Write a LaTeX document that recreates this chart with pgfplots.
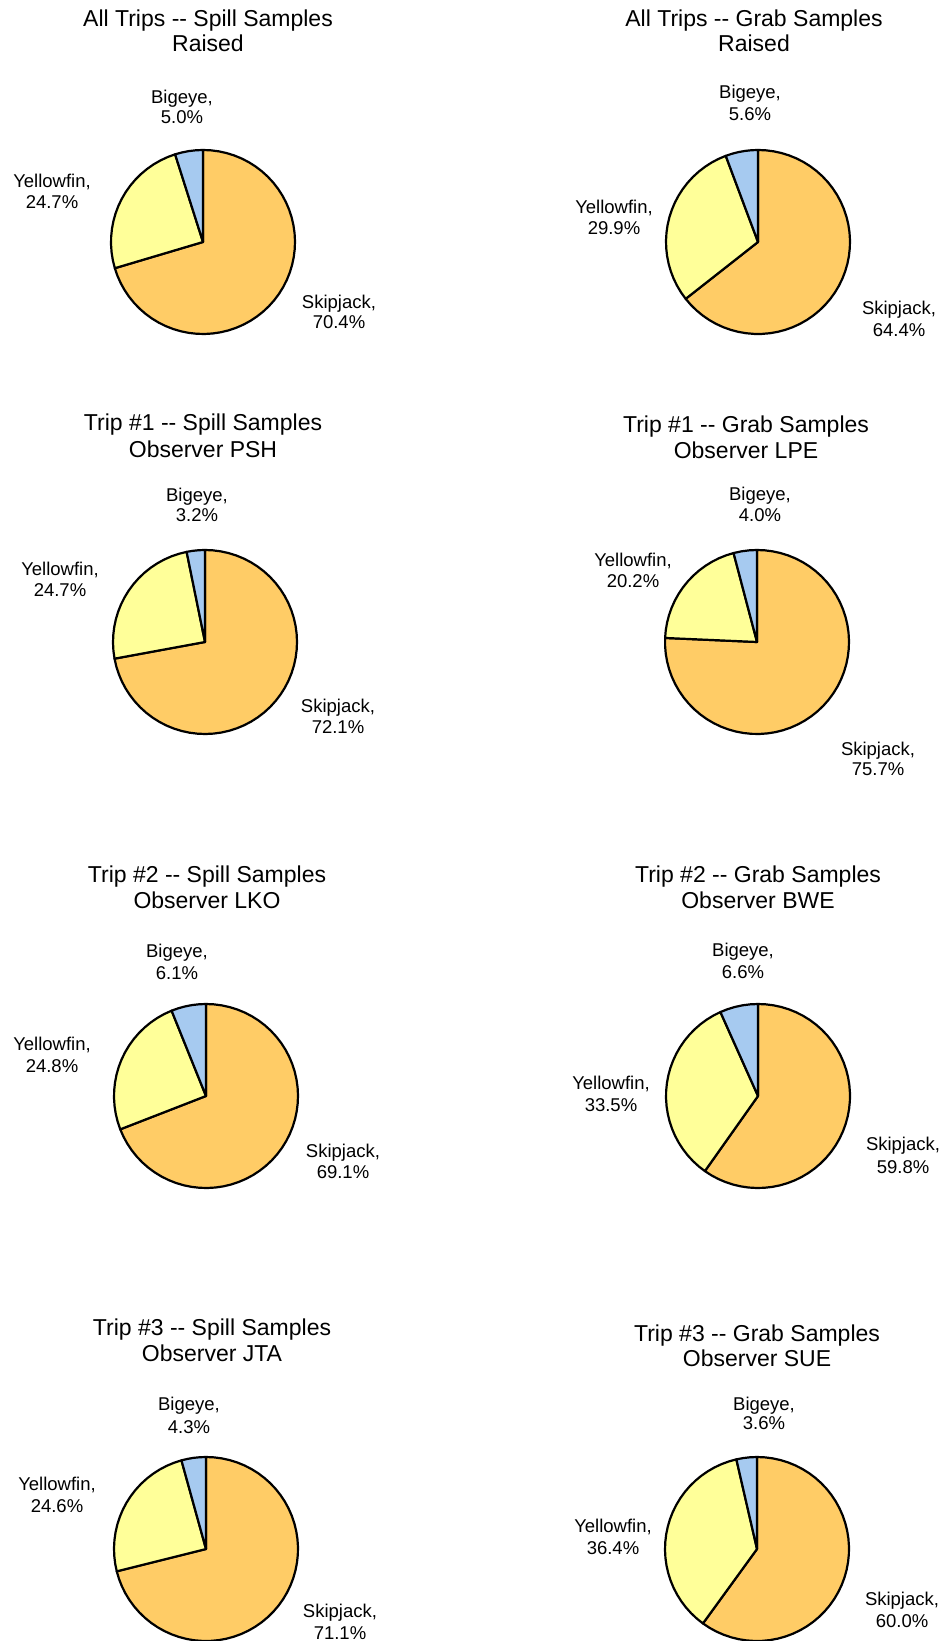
\documentclass[border=0pt]{standalone}
\usepackage{pgfplots}
\pgfplotsset{compat=1.18}
\usepackage{fontspec}
\setmainfont{Liberation Sans}
\definecolor{skc}{HTML}{FFCC66}
\definecolor{yfc}{HTML}{FFFF99}
\definecolor{bec}{HTML}{A6CAF0}
\def\R{92}
\newcommand\dd{-\kern0pt-}
\newcommand\lf{\fontsize{9.25}{11}\selectfont}
\newcommand\tf{\fontsize{11.5}{13}\selectfont}
% one wedge: centre x, centre y, start angle, end angle (clockwise from top), colour
\newcommand{\wedgeplot}[5]{%
  \pgfmathtruncatemacro\nint{max(2,ceil((#4-#3)/5))}%
  \pgfmathsetmacro\dlt{(#4-#3)/\nint}%
  \pgfmathsetmacro\dend{#4+\dlt}%
  \pgfmathsetmacro\thr{#4+0.5*\dlt}%
  \pgfmathtruncatemacro\nsamp{\nint+2}%
  \edef\temp{\noexpand\addplot[draw=black, line width=1.1pt, line join=round, fill=#5, domain=#3:\dend, samples=\nsamp, variable=\noexpand\t] ({#1+(\noexpand\t<\thr)*\R*sin(\noexpand\t)}, {#2-(\noexpand\t<\thr)*\R*cos(\noexpand\t)}) -- cycle;}%
  \temp
}
% pie: centre x, centre y, Skipjack %, Yellowfin %, Bigeye %
\newcommand{\pie}[5]{%
  \pgfmathsetmacro\aA{3.6*#3}%
  \pgfmathsetmacro\aB{3.6*(#3+#4)}%
  \wedgeplot{#1}{#2}{0}{\aA}{skc}%
  \wedgeplot{#1}{#2}{\aA}{\aB}{yfc}%
  \wedgeplot{#1}{#2}{\aB}{360}{bec}%
}
\newcommand{\lab}[5]{%
  \node[font=\lf, anchor=base] at (axis cs:#1,#2) {#4};
  \node[font=\lf, anchor=base] at (axis cs:#1,#3) {#5};
}
\newcommand{\ttl}[5]{%
  \node[font=\tf, anchor=base] at (axis cs:#1,#2) {#4};
  \node[font=\tf, anchor=base] at (axis cs:#1,#3) {#5};
}
\begin{document}
\begin{tikzpicture}
\begin{axis}[at={(0,0)}, anchor=south west, width=471.5pt, height=820.5pt,
  scale only axis, xmin=0, xmax=943, ymin=0, ymax=1641, y dir=reverse,
  hide axis, clip=false]
\addplot[draw=none] coordinates {(0,0) (943,1641)};
% --- pies ---
\pie{203}{242}{70.4}{24.7}{5.0}
\pie{758}{242}{64.4}{29.9}{5.6}
\pie{205}{642}{72.1}{24.7}{3.2}
\pie{757}{642}{75.7}{20.2}{4.0}
\pie{206}{1096}{69.1}{24.8}{6.1}
\pie{758}{1096}{59.8}{33.5}{6.6}
\pie{206}{1549}{71.1}{24.6}{4.3}
\pie{757}{1549}{60.0}{36.4}{3.6}
% --- panel 1 ---
\ttl{208}{27}{52}{All Trips \dd\ Spill Samples}{Raised}
\lab{182}{104}{124}{Bigeye,}{5.0\%}
\lab{52}{188}{209}{Yellowfin,}{24.7\%}
\lab{339}{309}{329}{Skipjack,}{70.4\%}
% --- panel 2 ---
\ttl{754}{27}{52}{All Trips \dd\ Grab Samples}{Raised}
\lab{750}{99}{121}{Bigeye,}{5.6\%}
\lab{614}{214}{235}{Yellowfin,}{29.9\%}
\lab{899}{315}{337}{Skipjack,}{64.4\%}
% --- panel 3 ---
\ttl{203}{431}{458}{Trip \#1 \dd\ Spill Samples}{Observer PSH}
\lab{197}{502}{522}{Bigeye,}{3.2\%}
\lab{60}{575}{596}{Yellowfin,}{24.7\%}
\lab{338}{712}{733}{Skipjack,}{72.1\%}
% --- panel 4 ---
\ttl{746}{433}{459}{Trip \#1 \dd\ Grab Samples}{Observer LPE}
\lab{760}{501}{522}{Bigeye,}{4.0\%}
\lab{633}{567}{587}{Yellowfin,}{20.2\%}
\lab{878}{755}{775}{Skipjack,}{75.7\%}
% --- panel 5 ---
\ttl{207}{882}{908}{Trip \#2 \dd\ Spill Samples}{Observer LKO}
\lab{177}{957}{979}{Bigeye,}{6.1\%}
\lab{52}{1050}{1072}{Yellowfin,}{24.8\%}
\lab{343}{1157}{1178}{Skipjack,}{69.1\%}
% --- panel 6 ---
\ttl{758}{882}{908}{Trip \#2 \dd\ Grab Samples}{Observer BWE}
\lab{743}{956}{978}{Bigeye,}{6.6\%}
\lab{611}{1089}{1111}{Yellowfin,}{33.5\%}
\lab{903}{1150}{1173}{Skipjack,}{59.8\%}
% --- panel 7 ---
\ttl{212}{1335}{1361}{Trip \#3 \dd\ Spill Samples}{Observer JTA}
\lab{189}{1410}{1433}{Bigeye,}{4.3\%}
\lab{57}{1490}{1512}{Yellowfin,}{24.6\%}
\lab{340}{1617}{1639}{Skipjack,}{71.1\%}
% --- panel 8 ---
\ttl{757}{1341}{1366}{Trip \#3 \dd\ Grab Samples}{Observer SUE}
\lab{764}{1410}{1429}{Bigeye,}{3.6\%}
\lab{613}{1532}{1554}{Yellowfin,}{36.4\%}
\lab{902}{1605}{1627}{Skipjack,}{60.0\%}
\end{axis}
\pgfresetboundingbox
\path (0,0) rectangle (471.5pt,820.5pt);
\end{tikzpicture}
\end{document}
